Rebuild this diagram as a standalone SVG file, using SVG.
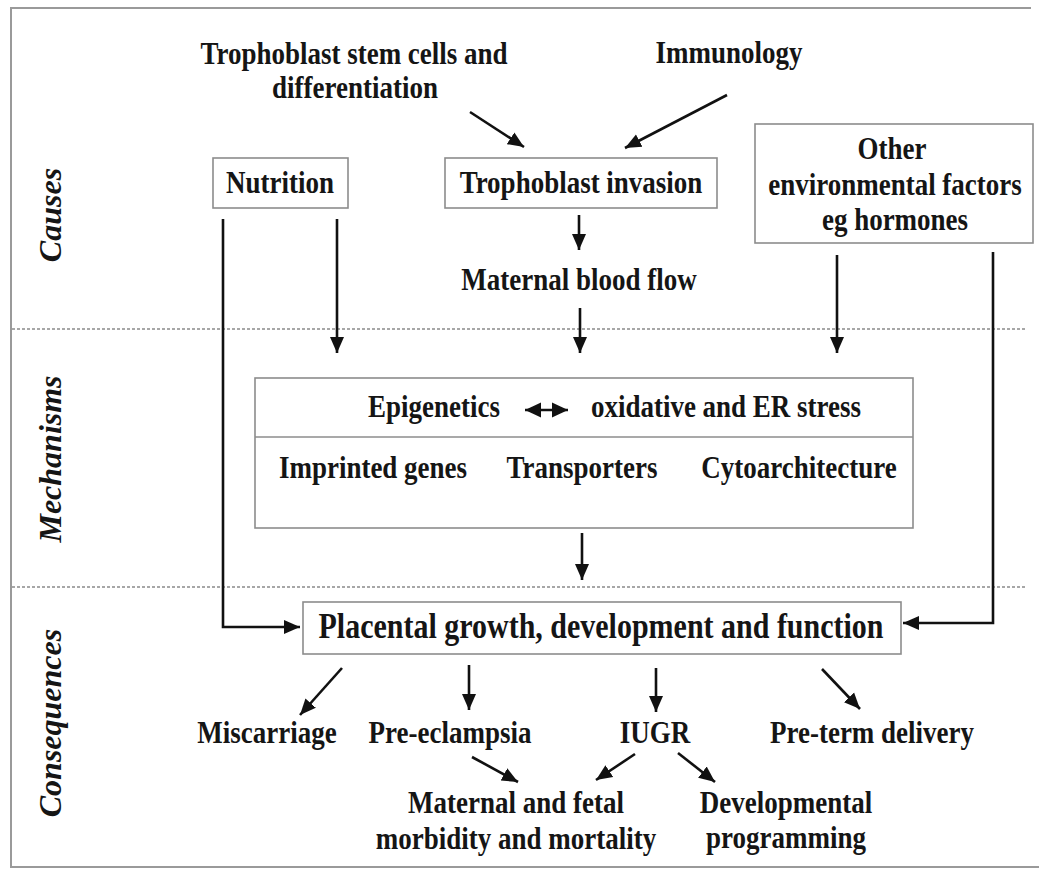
<svg xmlns="http://www.w3.org/2000/svg" width="1039" height="869" viewBox="0 0 1039 869">
<style>
text{font-family:"Liberation Serif","Times New Roman",serif;font-weight:bold;fill:#151515;text-anchor:middle}
.t{font-size:27px}
.big{font-size:30px}
.side{font-size:32px;font-style:italic}
.box{fill:none;stroke:#8c8c8c;stroke-width:1.6}
.frame{fill:none;stroke:#9a9a9a;stroke-width:2}
.dot{stroke:#8a8a8a;stroke-width:1.6;stroke-dasharray:3 2}
.c{fill:none;stroke:#111;stroke-width:2.6}
</style>
<defs>
<marker id="ah" markerUnits="userSpaceOnUse" markerWidth="18" markerHeight="16" refX="16" refY="8" orient="auto">
<path d="M0,1 L16,8 L0,15 Z" fill="#111"/>
</marker>
<marker id="ahs" markerUnits="userSpaceOnUse" markerWidth="18" markerHeight="18" refX="16" refY="9" orient="auto-start-reverse">
<path d="M0,1.5 L16,9 L0,16.5 Z" fill="#111"/>
</marker>
</defs>
<rect width="1039" height="869" fill="#fff"/>
<path class="frame" d="M1031 8 H11 V867 H1039"/>
<line class="dot" x1="12" y1="329" x2="1027" y2="329"/>
<line class="dot" x1="12" y1="587" x2="1027" y2="587"/>

<g id="labels">
<text class="side" transform="translate(61,215) rotate(-90)">Causes</text>
<text class="side" transform="translate(61,459) rotate(-90)">Mechanisms</text>
<text class="side" transform="translate(61,723) rotate(-90)">Consequences</text>
</g>

<g id="trophoblast-stem">
<text class="t" transform="translate(354,64) scale(1,1.18)">Trophoblast stem cells and</text>
<text class="t" transform="translate(355,98) scale(1,1.18)">differentiation</text>
</g>
<g id="immunology">
<text class="t" transform="translate(729,63) scale(1,1.18)">Immunology</text>
</g>
<g id="nutrition">
<rect class="box" x="213" y="158" width="135" height="50"/>
<text class="t" transform="translate(280,193) scale(1,1.18)">Nutrition</text>
</g>
<g id="trophoblast-invasion">
<rect class="box" x="445" y="158" width="272" height="50"/>
<text class="t" transform="translate(581,193) scale(1,1.18)">Trophoblast invasion</text>
</g>
<g id="maternal-blood-flow">
<text class="t" transform="translate(579,290) scale(1,1.18)">Maternal blood flow</text>
</g>
<g id="other-factors">
<rect class="box" x="755" y="124" width="278" height="119"/>
<text class="t" transform="translate(892,159) scale(1,1.18)">Other</text>
<text class="t" transform="translate(895,195) scale(1,1.18)">environmental factors</text>
<text class="t" transform="translate(895,230) scale(1,1.18)">eg hormones</text>
</g>
<g id="mechanisms">
<rect class="box" x="255" y="378" width="658" height="150"/>
<line x1="255" y1="437" x2="913" y2="437" stroke="#8c8c8c" stroke-width="1.6"/>
<text class="t" transform="translate(434,417) scale(1,1.18)">Epigenetics</text>
<text class="t" transform="translate(726,417) scale(1,1.18)">oxidative and ER stress</text>
<text class="t" transform="translate(373,478) scale(1,1.18)">Imprinted genes</text>
<text class="t" transform="translate(582,478) scale(1,1.18)">Transporters</text>
<text class="t" transform="translate(799,478) scale(1,1.18)">Cytoarchitecture</text>
</g>
<g id="placental">
<rect class="box" x="303" y="602" width="598" height="52"/>
<text class="big" transform="translate(601,638) scale(1,1.18)">Placental growth, development and function</text>
</g>
<g id="miscarriage"><text class="t" transform="translate(267,743) scale(1,1.18)">Miscarriage</text></g>
<g id="pre-eclampsia"><text class="t" transform="translate(450,743) scale(1,1.18)">Pre-eclampsia</text></g>
<g id="iugr"><text class="t" transform="translate(655,743) scale(1,1.18)">IUGR</text></g>
<g id="pre-term"><text class="t" transform="translate(872,743) scale(1,1.18)">Pre-term delivery</text></g>
<g id="morbidity">
<text class="t" transform="translate(516,813) scale(1,1.18)">Maternal and fetal</text>
<text class="t" transform="translate(516,849) scale(1,1.18)">morbidity and mortality</text>
</g>
<g id="programming">
<text class="t" transform="translate(786,813) scale(1,1.18)">Developmental</text>
<text class="t" transform="translate(786,848) scale(1,1.18)">programming</text>
</g>

<g id="connectors">
<path class="c" d="M470 112 L524 147" marker-end="url(#ah)"/>
<path class="c" d="M727 95 L625 148" marker-end="url(#ah)"/>
<path class="c" d="M579 215 V250" marker-end="url(#ah)"/>
<path class="c" d="M580 308 V353" marker-end="url(#ah)"/>
<path class="c" d="M337 219 V353" marker-end="url(#ah)"/>
<path class="c" d="M837 255 V353" marker-end="url(#ah)"/>
<path class="c" d="M223 219 V627 H300" marker-end="url(#ah)"/>
<path class="c" d="M993 252 V623 H903" marker-end="url(#ah)"/>
<path class="c" d="M582 533 V580" marker-end="url(#ah)"/>
<path class="c" d="M342 668 L300 715" marker-end="url(#ah)"/>
<path class="c" d="M469 665 V710" marker-end="url(#ah)"/>
<path class="c" d="M656 668 V712" marker-end="url(#ah)"/>
<path class="c" d="M822 669 L860 709" marker-end="url(#ah)"/>
<path class="c" d="M472 757 L518 782" marker-end="url(#ah)"/>
<path class="c" d="M635 754 L596 780" marker-end="url(#ah)"/>
<path class="c" d="M678 753 L715 782" marker-end="url(#ah)"/>
<path class="c" d="M525 410 H568" stroke-width="3.4" marker-start="url(#ahs)" marker-end="url(#ahs)"/>
</g>
</svg>
